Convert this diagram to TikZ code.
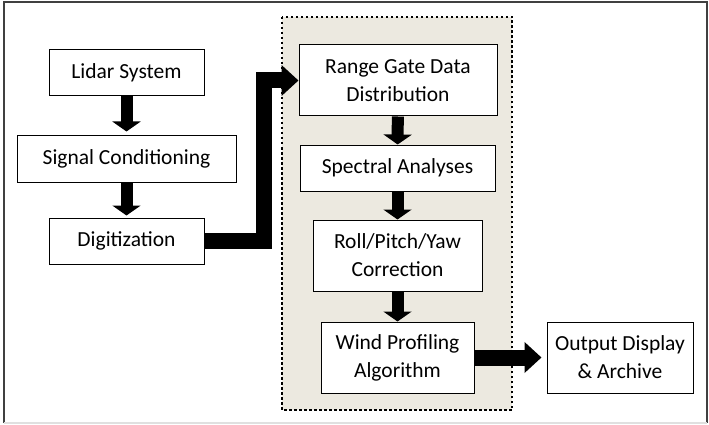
\documentclass[tikz,border=0pt]{standalone}
\usepackage{fontspec}
\setmainfont{Carlito}
\usetikzlibrary{arrows.meta}
\definecolor{panel}{RGB}{236,233,224}

\begin{document}
\begin{tikzpicture}[x=1pt,y=-1pt,
  box/.style={draw,fill=white,line width=1pt,align=center,inner sep=0pt,
    font=\fontsize{21.5}{28}\selectfont},
  downarrow/.style={line width=12pt,-{Triangle[length=10pt,width=28pt]}},
  bigarrow/.style={line width=16pt,line join=miter,-{Triangle[length=17pt,width=30pt]}}]
\useasboundingbox (0,0) rectangle (709,425);
% outer frame
\draw[black!75,line width=2pt] (4,423) -- (4,2.5) -- (707,2.5) -- (707,423);
\draw[black!12,line width=1.5pt] (4,423) -- (707,423);

% processing panel
\draw[fill=panel,line width=2.5pt,dash pattern=on 2.5pt off 2.5pt] (282,17) rectangle (512,410);

\node[box,minimum width=155pt,minimum height=46pt] (lidar) at (126.5,73) {Lidar System};
\node[box,minimum width=219pt,minimum height=46pt] (sig) at (126.5,159) {Signal Conditioning};
\node[box,minimum width=155pt,minimum height=46pt] (dig) at (126.5,241) {Digitization};

\node[box,minimum width=198pt,minimum height=71pt] (rng) at (398,80.5) {Range Gate Data\\Distribution};
\node[box,minimum width=195pt,minimum height=46pt] (spec) at (397.5,168) {Spectral Analyses};
\node[box,minimum width=169pt,minimum height=71pt] (roll) at (397.5,255.5) {Roll/Pitch/Yaw\\Correction};
\node[box,minimum width=153pt,minimum height=71pt] (wind) at (397.5,357.5) {Wind Profiling\\Algorithm};
\node[box,minimum width=146pt,minimum height=71pt] (out) at (620,357.5) {Output Display\\\& Archive};

\draw[downarrow,shorten >=4pt] (lidar) -- (sig);
\draw[downarrow,shorten >=2pt] (sig) -- (dig);
\draw[downarrow] (rng) -- (spec);
\draw[downarrow] (spec) -- (roll);
\draw[downarrow] (roll) -- (wind);

\draw[bigarrow] (dig.east) -- ++(59,0) |- (rng.west);
\draw[bigarrow,shorten >=5pt] (wind.east) -- (out.west);
\end{tikzpicture}
\end{document}
